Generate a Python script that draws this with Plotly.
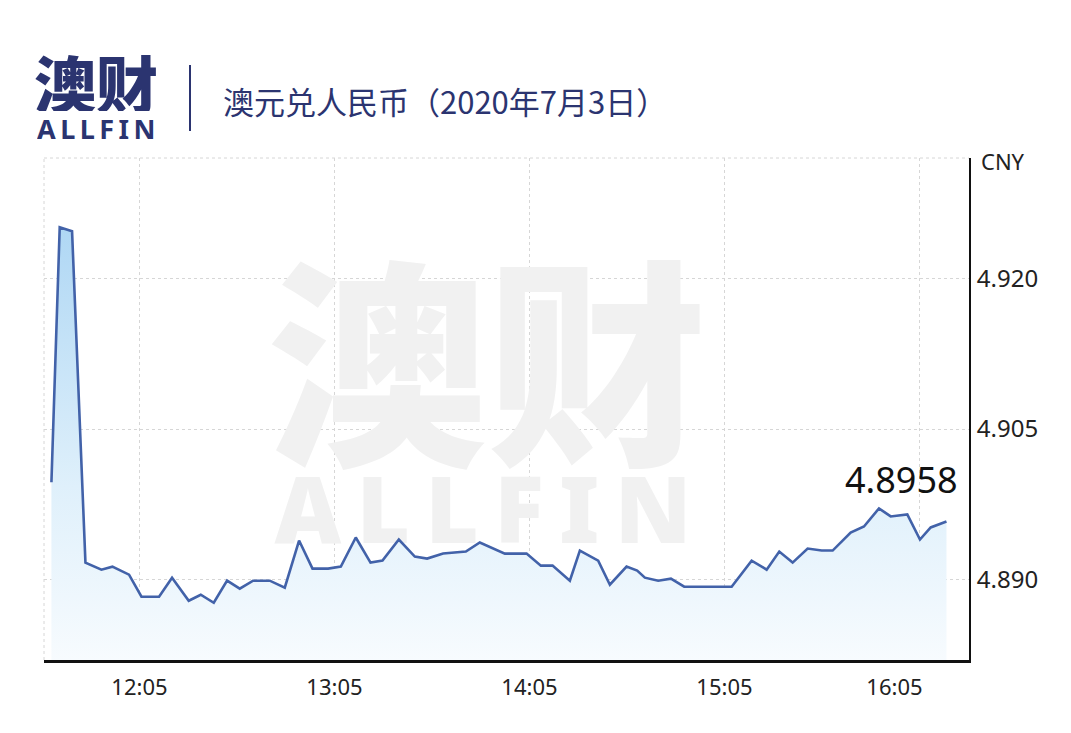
import plotly.graph_objects as go
import pandas as pd

# ---------------- data ----------------
DATE = "2020-07-03"
times = ["11:37:55", "11:40:28", "11:44:16", "11:48:23", "11:53:18", "11:56:41", "12:01:48",
         "12:05:37", "12:11:02", "12:15:02", "12:20:10", "12:23:52", "12:27:52", "12:31:58",
         "12:35:52", "12:39:58", "12:45:06", "12:49:43", "12:54:07", "12:58:15", "13:03:03",
         "13:06:58", "13:11:34", "13:16:06", "13:19:47", "13:24:49", "13:29:44", "13:33:31",
         "13:38:26", "13:41:31", "13:45:26", "13:49:44", "13:53:50", "13:57:26", "14:04:07",
         "14:08:31", "14:12:07", "14:17:26", "14:20:31", "14:26:09", "14:29:45", "14:34:53",
         "14:38:09", "14:40:31", "14:44:37", "14:48:32", "14:52:37", "14:58:59", "15:07:13",
         "15:13:22", "15:17:59", "15:21:52", "15:25:59", "15:30:36", "15:34:55", "15:38:18",
         "15:43:50", "15:47:56", "15:52:33", "15:56:09", "16:01:16", "16:05:10", "16:08:28",
         "16:13:19"]
rates = [4.8997, 4.9251, 4.9247, 4.8917, 4.8910, 4.8913, 4.8905, 4.8883, 4.8883, 4.8902,
         4.8879, 4.8885, 4.8877, 4.8899, 4.8891, 4.8899, 4.8899, 4.8892, 4.8939, 4.8911,
         4.8911, 4.8913, 4.8942, 4.8917, 4.8919, 4.8940, 4.8923, 4.8921, 4.8926, 4.8927,
         4.8928, 4.8937, 4.8931, 4.8926, 4.8926, 4.8914, 4.8914, 4.8899, 4.8929, 4.8919,
         4.8895, 4.8913, 4.8909, 4.8902, 4.8899, 4.8901, 4.8893, 4.8893, 4.8893, 4.8919,
         4.8910, 4.8928, 4.8917, 4.8931, 4.8929, 4.8929, 4.8947, 4.8953, 4.8971, 4.8963,
         4.8965, 4.8940, 4.8952, 4.8958]

x_tick_labels = ["12:05", "13:05", "14:05", "15:05", "16:05"]
y_tick_vals = [4.890, 4.905, 4.920]
y_tick_text = ["4.890", "4.905", "4.920"]

title_text = "澳元兑人民币（2020年7月3日）"
logo_cn = "澳财"
logo_en = "ALLFIN"
unit_text = "CNY"

X_RANGE = ["11:35:38", "16:20:15"]
Y_RANGE = [4.882, 4.932]

# ---------------- styles ----------------
NAVY = "#2b3470"
LINE = "#4262a9"
GRID = "#d6d6d6"
WM = "#f1f1f1"
FONT = "Noto Sans, Noto Sans CJK SC, sans-serif"
CJK = "Noto Sans CJK SC, Noto Sans, sans-serif"
LAST_LABEL_SHIFT_PX = -25   # the last time label is pulled inward, as in the original

W, H = 1071, 733
M = dict(l=44, r=102, t=158, b=73)
PW = W - M["l"] - M["r"]
PH = H - M["t"] - M["b"]


def px(x):
    return (x - M["l"]) / PW


def py(y):
    return (H - M["b"] - y) / PH


ts = pd.to_datetime([f"{DATE} {t}" for t in times])
xr = pd.to_datetime([f"{DATE} {t}" for t in X_RANGE])


def x_at(frac):
    return xr[0] + (xr[1] - xr[0]) * frac


def y_at(frac):
    return Y_RANGE[0] + (Y_RANGE[1] - Y_RANGE[0]) * frac


tick_vals = list(pd.to_datetime([f"{DATE} {t}" for t in x_tick_labels]))
label_pos = tick_vals[:-1] + [tick_vals[-1] + (xr[1] - xr[0]) * (LAST_LABEL_SHIFT_PX / PW)]
thin = "\u2009"

fig = go.Figure()

# watermark (below the data)
fig.add_trace(go.Scatter(
    x=[x_at(px(487))], y=[y_at(py(394))],
    mode="text", text=[logo_cn],
    textfont=dict(family=CJK, size=220, color=WM, weight=900),
    hoverinfo="skip", showlegend=False, cliponaxis=False,
))
fig.add_trace(go.Scatter(
    x=[x_at(px(483))], y=[y_at(py(520))],
    mode="text", text=[thin.join(logo_en)],
    textfont=dict(family=FONT, size=92, color=WM, weight=900),
    hoverinfo="skip", showlegend=False, cliponaxis=False,
))

# area + line
fig.add_trace(go.Scatter(
    x=ts, y=rates,
    mode="lines",
    line=dict(color=LINE, width=2.6),
    fill="tozeroy",
    fillgradient=dict(type="vertical", start=Y_RANGE[0], stop=max(rates),
                      colorscale=[[0, "#f7fbfe"], [0.4, "#dff0fb"], [1, "#afd7f4"]]),
    hoverinfo="skip", showlegend=False,
))

# empty trace carrying the time-label axis
fig.add_trace(go.Scatter(x=[], y=[], xaxis="x2", yaxis="y", showlegend=False,
                         hoverinfo="skip"))

fig.update_layout(
    width=W, height=H,
    margin=dict(l=M["l"], r=M["r"], t=M["t"], b=M["b"], pad=0),
    paper_bgcolor="white", plot_bgcolor="white",
    font=dict(family=FONT, color="#222222"),
    showlegend=False,
    xaxis=dict(
        type="date", range=list(xr),
        tickvals=tick_vals, showticklabels=False,
        showgrid=True, gridcolor=GRID, griddash="dot", gridwidth=1,
        showline=True, linecolor="#111111", linewidth=3,
        ticks="", zeroline=False, fixedrange=True,
    ),
    xaxis2=dict(
        type="date", range=list(xr), overlaying="x", anchor="y", side="bottom",
        tickvals=label_pos, ticktext=x_tick_labels,
        showgrid=False, showline=False, zeroline=False, ticks="",
        tickfont=dict(size=22, color="#222222"),
        ticklabelstandoff=12, fixedrange=True,
    ),
    yaxis=dict(
        range=Y_RANGE, side="right",
        tickvals=y_tick_vals, ticktext=y_tick_text,
        showgrid=True, gridcolor=GRID, griddash="dot", gridwidth=1,
        showline=True, linecolor="#111111", linewidth=2,
        ticks="", tickfont=dict(size=24, color="#222222"),
        ticklabelstandoff=1, zeroline=False, fixedrange=True,
    ),
    shapes=[
        # dotted top and left plot border
        dict(type="line", xref="paper", yref="paper", x0=0, x1=1, y0=1, y1=1,
             line=dict(color=GRID, width=1, dash="dot"), layer="below"),
        dict(type="line", xref="paper", yref="paper", x0=0, x1=0, y0=0, y1=1,
             line=dict(color=GRID, width=1, dash="dot"), layer="below"),
        # header separator
        dict(type="line", xref="paper", yref="paper", x0=px(190), x1=px(190),
             y0=py(65), y1=py(131), line=dict(color=NAVY, width=2)),
    ],
    annotations=[
        dict(text=logo_cn, xref="paper", yref="paper", x=px(96), y=py(82),
             xanchor="center", yanchor="middle", showarrow=False, height=58,
             font=dict(family=CJK, size=62, color=NAVY, weight=900)),
        dict(text=thin.join(logo_en), xref="paper", yref="paper", x=px(96), y=py(128),
             xanchor="center", yanchor="middle", showarrow=False, height=22,
             font=dict(family=FONT, size=27, color=NAVY, weight=700)),
        dict(text=title_text, xref="paper", yref="paper", x=px(221), y=py(100),
             xanchor="left", yanchor="middle", showarrow=False,
             font=dict(family=CJK, size=31, color=NAVY)),
        dict(text=unit_text, xref="paper", yref="paper", x=px(979), y=py(161),
             xanchor="left", yanchor="middle", showarrow=False,
             font=dict(family=FONT, size=22, color="#222222")),
        dict(text=f"{rates[-1]:.4f}", x=ts[-1], y=rates[-1],
             xanchor="right", yanchor="middle", xshift=14, yshift=42, showarrow=False,
             font=dict(family=FONT, size=36, color="#111111")),
    ],
)

fig.write_html("out.html", config={"displayModeBar": False, "staticPlot": True},
               post_script="document.body.style.margin='0px';")
